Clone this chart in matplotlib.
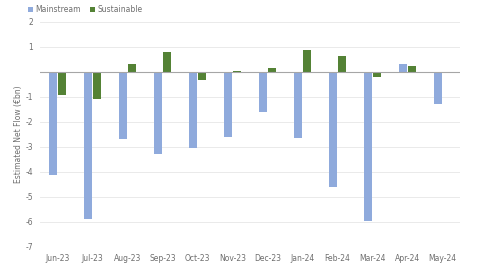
import numpy as np
import matplotlib.pyplot as plt

months = ["Jun-23", "Jul-23", "Aug-23", "Sep-23", "Oct-23", "Nov-23",
          "Dec-23", "Jan-24", "Feb-24", "Mar-24", "Apr-24", "May-24"]
mainstream = [-4.11, -5.87, -2.68, -3.28, -3.03, -2.60,
              -1.60, -2.63, -4.61, -5.96, 0.32, -1.28]
sustainable = [-0.91, -1.07, 0.32, 0.79, -0.33, 0.04,
               0.15, 0.88, 0.63, -0.20, 0.23, -0.05]

plt.rcParams['font.family'] = ['Liberation Sans Narrow', 'DejaVu Sans']

fig = plt.figure(figsize=(5, 2.64), dpi=100)
ax = fig.add_axes([0.08, 0.0644, 0.84, 0.8523])

x = np.arange(len(months))
w = 0.23
ax.bar(x - 0.137, mainstream, w, color="#8FAADC", label="Mainstream", zorder=3)
ax.bar(x + 0.137, sustainable, w, color="#548235", label="Sustainable", zorder=3)

ax.set_xlim(-0.5, len(months) - 0.5)
ax.set_ylim(-7, 2)
ax.set_yticks(range(-7, 3))
ax.set_yticklabels([str(v) if v != 0 else "" for v in range(-7, 3)])
ax.set_xticks(x)
ax.set_xticklabels(months)
ax.tick_params(length=0, labelsize=5.5, colors="#6E6E6E")
ax.tick_params(axis="x", pad=5)
ax.tick_params(axis="y", pad=5)
ax.grid(axis="y", color="#E6E6E6", linewidth=0.6, zorder=0)
ax.axhline(0, color="#A6A6A6", linewidth=0.8, zorder=4)
for s in ax.spines.values():
    s.set_visible(False)

ax.set_ylabel("Estimated Net Flow (€bn)", fontsize=5.5, color="#6E6E6E", labelpad=2)

ax.legend(loc="upper left", bbox_to_anchor=(-0.045, 1.105), ncol=2, frameon=False,
          fontsize=5.5, handlelength=0.6, handleheight=0.6, handletextpad=0.4,
          columnspacing=1.2, labelcolor="#6E6E6E")

fig.savefig("out.png", dpi=100)
